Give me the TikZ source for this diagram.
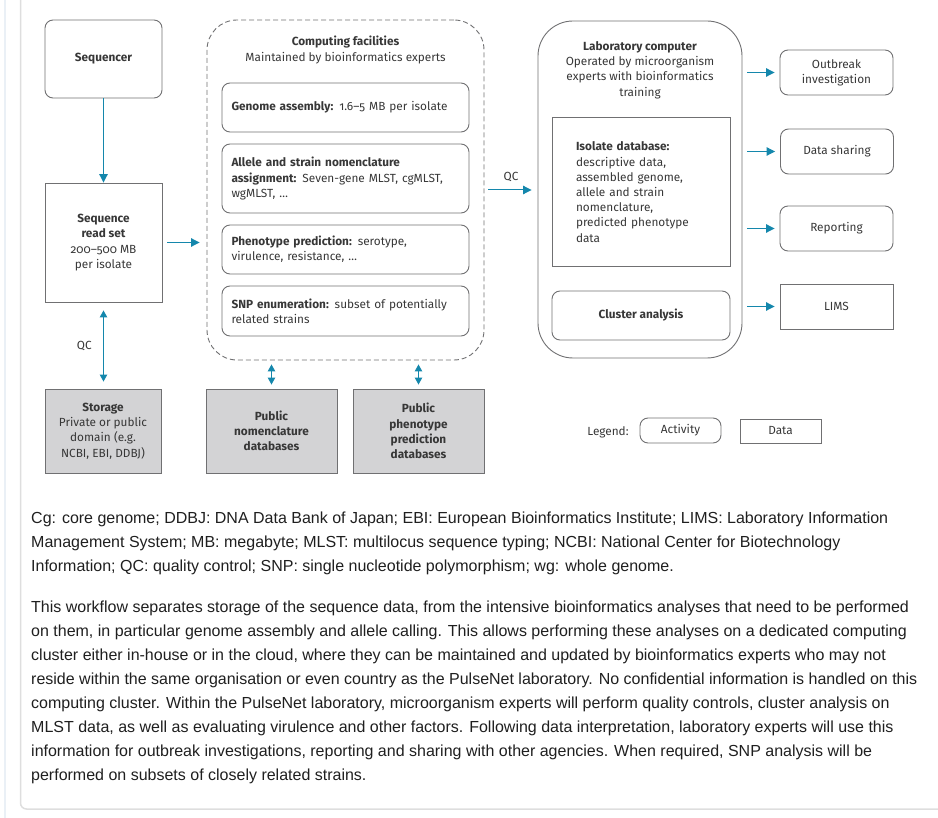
\documentclass[tikz,border=0pt]{standalone}
\usepackage{fontspec}
\setmainfont{Fira Sans}[Numbers=OldStyle]
\newfontfamily\capfont{Liberation Sans}
\usetikzlibrary{arrows.meta}
\definecolor{flowblue}{RGB}{20,135,172}
\definecolor{boxgray}{RGB}{112,112,114}
\definecolor{dbfill}{RGB}{211,211,213}
\definecolor{txtgray}{RGB}{55,55,55}
\definecolor{framegray}{RGB}{222,222,222}
\definecolor{frameblue}{RGB}{234,240,246}
\begin{document}
\begin{tikzpicture}[%
            x=1pt, y=-1pt,
            font=\fontsize{11.8}{15.2}\selectfont, text=txtgray,
            actbox/.style={draw=boxgray, line width=0.9pt, rounded corners=8pt, align=center, inner sep=4pt},
            databox/.style={draw=boxgray, line width=0.9pt, align=center, inner sep=4pt},
            dbbox/.style={databox, fill=dbfill, minimum height=84pt},
            stepbox/.style={actbox, minimum width=247pt, text width=228pt, align=left},
            outbox/.style={minimum width=113pt, minimum height=45pt},
            flow/.style={draw=flowblue, line width=1pt, -{Triangle[length=8.5pt,width=8.5pt]}},
            dflow/.style={draw=flowblue, line width=1pt, {Triangle[length=7pt,width=7.5pt]}-{Triangle[length=7pt,width=7.5pt]}},
            captext/.style={anchor=north west, align=left, inner sep=0pt, text=black!88, font=\capfont\fontsize{16}{23.9}\selectfont}
    ]
        \useasboundingbox (0,0) rectangle (938,818);
        \draw [frameblue, line width=1.5pt] (5,0) -- (5,818);
        \draw [framegray, line width=1.5pt, rounded corners=6pt] (20.5,0) -- (20.5,809) -- (938,809);

        \node [actbox, minimum width=117pt, minimum height=78pt, font=\fontsize{11.8}{15.2}\selectfont\bfseries] (seq) at (103.5,59) {Sequencer};
        \node [databox, minimum width=117pt, minimum height=119pt] (reads) at (103.5,242.5)
            {\textbf{Sequence}\\\textbf{read set}\\200--500 MB\\per isolate};
        \node [dbbox, minimum width=116pt] (storage) at (103,431)
            {\textbf{Storage}\\Private or public\\domain (e.g.\\NCBI, EBI, DDBJ)};

        \node [draw=boxgray, line width=0.9pt, dash pattern=on 5pt off 3pt, rounded corners=30pt,
            minimum width=277pt, minimum height=340pt] (comp) at (345.5,190) {};
        \node [align=center] (comptitle) at (345.5,50) {\textbf{Computing facilities}\\Maintained by bioinformatics experts};
        \node [stepbox, minimum height=49pt] (genome) at (345.5,107.5) {\textbf{Genome assembly:} 1.6--5 MB per isolate};
        \node [stepbox, minimum height=69pt] (allele) at (345.5,178.5)
            {\textbf{Allele and strain nomenclature}\\\textbf{assignment:} Seven-gene MLST, cgMLST,\\wgMLST, \ldots};
        \node [stepbox, minimum height=49pt] (pheno) at (345.5,249.5) {\textbf{Phenotype prediction:} serotype,\\virulence, resistance, \ldots};
        \node [stepbox, minimum height=50pt] (snp) at (345.5,311) {\textbf{SNP enumeration:} subset of potentially\\related strains};
        \node [dbbox, minimum width=131pt, font=\fontsize{11.8}{15.2}\selectfont\bfseries] (nomdb) at (271.5,431) {Public\\nomenclature\\databases};
        \node [dbbox, minimum width=131pt, font=\fontsize{11.8}{15.2}\selectfont\bfseries] (phendb) at (418.5,431) {Public\\phenotype\\prediction\\databases};

        \node [draw=boxgray, line width=0.9pt, rounded corners=35pt, minimum width=204pt, minimum height=337pt] (lab) at (640,189.5) {};
        \node [align=center] (labtitle) at (640,70) {\textbf{Laboratory computer}\\Operated by microorganism\\experts with bioinformatics\\training};
        \node [databox, minimum width=178pt, minimum height=149pt, text width=130pt, align=left] (isodb) at (641,192)
            {\textbf{Isolate database:}\\descriptive data,\\assembled genome,\\allele and strain\\nomenclature,\\predicted phenotype\\data};
        \node [actbox, minimum width=178pt, minimum height=49pt, font=\fontsize{11.8}{15.2}\selectfont\bfseries] (cluster) at (641,315.5) {Cluster analysis};

        \node [actbox, outbox] (outbreak) at (836.5,72.5) {Outbreak\\investigation};
        \node [actbox, outbox] (sharing) at (837,151.5) {Data sharing};
        \node [actbox, outbox] (reporting) at (836.5,228.5) {Reporting};
        \node [databox, outbox] (lims) at (836.5,306.5) {LIMS};

        \node (legend) at (608,432) {Legend:};
        \node [actbox, minimum width=81pt, minimum height=25pt] (legact) at (680.5,430.5) {Activity};
        \node [databox, minimum width=81pt, minimum height=24pt] (legdata) at (780.5,431) {Data};

        \draw [flow] (seq) -- (reads);
        \draw [flow, shorten <=5pt, shorten >=7pt] (reads) -- (reads -| comp.west);
        \draw [flow, shorten <=4pt, shorten >=6pt] (comp.east) -- (comp.east -| lab.west) node (qc) [midway, above=4pt] {QC};
        \draw [dflow, shorten <=8pt, shorten >=7pt] (reads.south) -- (reads.south |- storage.north) node (qcstore) [midway, left=8pt] {QC};
        \draw [dflow, shorten <=4pt, shorten >=4pt] (comp.south -| nomdb.north) -- (nomdb.north);
        \draw [dflow, shorten <=4pt, shorten >=4pt] (comp.south -| phendb.north) -- (phendb.north);
        \draw [flow, shorten <=5pt, shorten >=5pt] (lab.east |- outbreak) -- (outbreak);
        \draw [flow, shorten <=5pt, shorten >=5pt] (lab.east |- sharing) -- (sharing);
        \draw [flow, shorten <=5pt, shorten >=5pt] (lab.east |- reporting) -- (reporting);
        \draw [flow, shorten <=5pt, shorten >=5pt] (lab.east |- lims) -- (lims);

        \node [captext] (abbrev) at (31,512)
            {Cg: core genome; DDBJ: DNA Data Bank of Japan; EBI: European Bioinformatics Institute; LIMS: Laboratory Information\\
             Management System; MB: megabyte; MLST: multilocus sequence typing; NCBI: National Center for Biotechnology\\
             Information; QC: quality control; SNP: single nucleotide polymorphism; wg: whole genome.};
        \node [captext] (workflow) at (31,601)
            {This workflow separates storage of the sequence data, from the intensive bioinformatics analyses that need to be performed\\
             on them, in particular genome assembly and allele calling. This allows performing these analyses on a dedicated computing\\
             cluster either in-house or in the cloud, where they can be maintained and updated by bioinformatics experts who may not\\
             reside within the same organisation or even country as the PulseNet laboratory. No confidential information is handled on this\\
             computing cluster. Within the PulseNet laboratory, microorganism experts will perform quality controls, cluster analysis on\\
             MLST data, as well as evaluating virulence and other factors. Following data interpretation, laboratory experts will use this\\
             information for outbreak investigations, reporting and sharing with other agencies. When required, SNP analysis will be\\
             performed on subsets of closely related strains.};
    \end{tikzpicture}
\end{document}
